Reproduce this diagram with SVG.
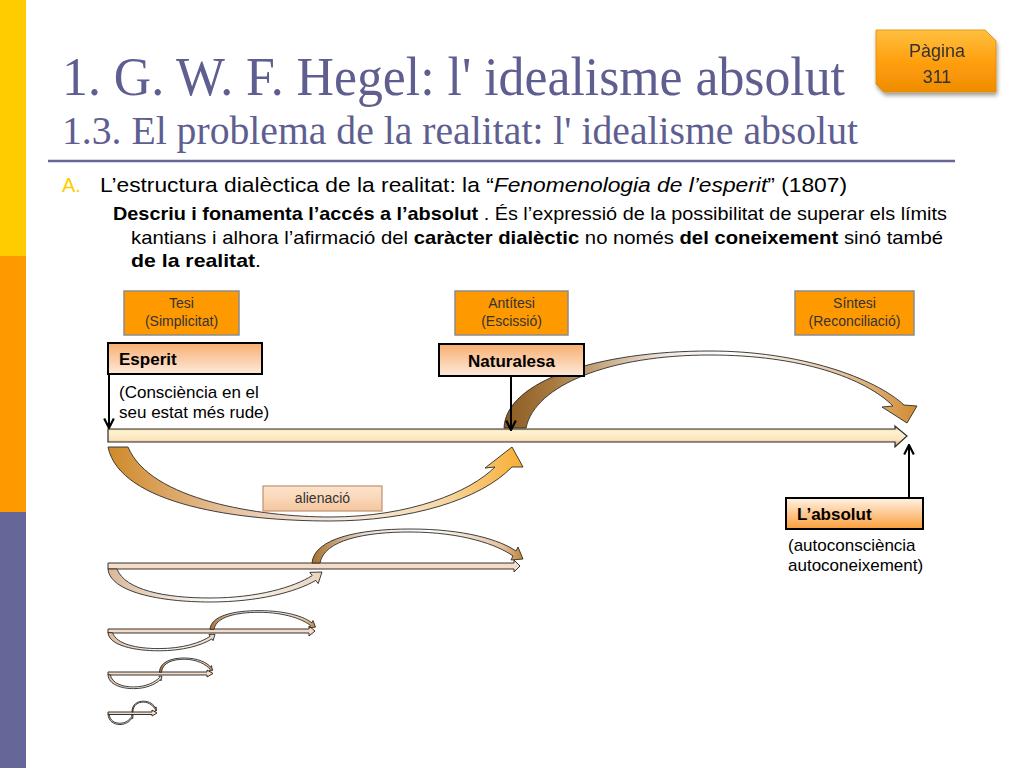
<svg xmlns="http://www.w3.org/2000/svg" xmlns:xlink="http://www.w3.org/1999/xlink" width="1024" height="768" viewBox="0 0 1024 768">
<style>
.sans{font-family:"Liberation Sans",Arial,sans-serif}
.serif{font-family:"Liberation Serif","Times New Roman",serif;fill:#5E5E90}
.lbl{font-family:"Liberation Sans",Arial,sans-serif;font-size:14px;fill:#333;text-anchor:middle}
.hdr{font-family:"Liberation Sans",Arial,sans-serif;font-size:17px;font-weight:bold;fill:#000}
.note{font-family:"Liberation Sans",Arial,sans-serif;font-size:17px;fill:#000}
.obox{fill:#FF9900;stroke:#8C8C8C;stroke-width:1.5}
.pbox{stroke:#000;stroke-width:2}
.vline{stroke:#000;stroke-width:2;fill:none;marker-end:url(#v)}
.arc{stroke:#2a2a2a;stroke-width:0.9;vector-effect:non-scaling-stroke}
.sbar{fill:#F6DCC6;stroke:#333;stroke-width:1}
</style>
<defs>
<marker id="v" viewBox="0 0 10 10" refX="9" refY="5" markerWidth="6" markerHeight="6" orient="auto" markerUnits="strokeWidth">
<path d="M1,1 L9,5 L1,9" fill="none" stroke="#000" stroke-width="1.8"/>
</marker>
<linearGradient id="gEsp" x1="0" y1="0" x2="0" y2="1">
<stop offset="0" stop-color="#F8AE70"/><stop offset="1" stop-color="#FDEADB"/>
</linearGradient>
<linearGradient id="gAbs" x1="0" y1="0" x2="0" y2="1">
<stop offset="0" stop-color="#FFF3E6"/><stop offset="1" stop-color="#FB9E3A"/>
</linearGradient>
<linearGradient id="gAli" x1="0" y1="0" x2="0" y2="1">
<stop offset="0" stop-color="#FBE3CC"/><stop offset="0.5" stop-color="#FAD7B8"/><stop offset="1" stop-color="#F3C69E"/>
</linearGradient>
<linearGradient id="gPag" x1="0" y1="0" x2="0" y2="1">
<stop offset="0" stop-color="#FFC040"/><stop offset="0.5" stop-color="#FFA010"/><stop offset="1" stop-color="#F08C00"/>
</linearGradient>
<linearGradient id="gBar" x1="0" y1="0" x2="0" y2="1">
<stop offset="0" stop-color="#E0A060"/><stop offset="0.25" stop-color="#FFF2D0"/><stop offset="0.65" stop-color="#FBE6BE"/><stop offset="1" stop-color="#C88A50"/>
</linearGradient>
<linearGradient id="gLow" x1="0" y1="0" x2="1" y2="0">
<stop offset="0" stop-color="#D08A28"/><stop offset="0.3" stop-color="#E6C2A2"/><stop offset="0.55" stop-color="#F6ECE4"/><stop offset="0.8" stop-color="#F6D8A8"/><stop offset="1" stop-color="#F8AE30"/>
</linearGradient>
<linearGradient id="gUp" x1="0" y1="0" x2="1" y2="0">
<stop offset="0" stop-color="#8A5A22"/><stop offset="0.12" stop-color="#A87A40"/><stop offset="0.4" stop-color="#F2EAE4"/><stop offset="0.55" stop-color="#FFFFFF"/><stop offset="0.8" stop-color="#E6C8A8"/><stop offset="1" stop-color="#D08C30"/>
</linearGradient>
<linearGradient id="gUp1" x1="0" y1="0" x2="1" y2="0">
<stop offset="0" stop-color="#A8702C"/><stop offset="0.25" stop-color="#E8DCD0"/><stop offset="0.55" stop-color="#FFFFFF"/><stop offset="0.9" stop-color="#E2C2A0"/><stop offset="1" stop-color="#C08438"/>
</linearGradient>
<linearGradient id="gLow1" x1="0" y1="0" x2="1" y2="0">
<stop offset="0" stop-color="#D8B898"/><stop offset="0.5" stop-color="#FFFFFF"/><stop offset="1" stop-color="#EAD4BE"/>
</linearGradient>
<filter id="sh" x="-20%" y="-20%" width="140%" height="150%">
<feGaussianBlur in="SourceAlpha" stdDeviation="2"/><feOffset dx="1" dy="3"/>
<feComponentTransfer><feFuncA type="linear" slope="0.4"/></feComponentTransfer>
<feMerge><feMergeNode/><feMergeNode in="SourceGraphic"/></feMerge>
</filter>
<g id="lv">
<path class="arc" fill="url(#gUp1)" d="M312,563 C314,538 360,529 410,529 C465,529 500,540 516,551 L518,547 L523,559 L511,560 L513,556 C498,545 462,532 410,532 C365,532 324,540 320,563 Z"/>
<path class="arc" fill="url(#gLow1)" d="M108,569 C110,592 160,602 210,602 C258,602 296,592 315.8,580.4 L318.2,583.6 L322,572 L309.8,572.4 L312.2,575.6 C294,587 258,598 210,598 C165,598 125,590 117,569 Z"/>
</g>
</defs>
<rect width="1024" height="768" fill="#fff"/>
<g id="strip">
<rect x="0" y="0" width="26" height="256" fill="#FFCC00"/>
<rect x="0" y="256" width="26" height="256" fill="#FF9900"/>
<rect x="0" y="512" width="26" height="256" fill="#666699"/>
</g>
<g id="title">
<text class="serif" x="62" y="95" font-size="54" textLength="783" lengthAdjust="spacingAndGlyphs">1. G. W. F. Hegel: l' idealisme absolut</text>
<text class="serif" x="62" y="144" font-size="41" textLength="796" lengthAdjust="spacingAndGlyphs">1.3. El problema de la realitat: l' idealisme absolut</text>
<line x1="48" y1="161" x2="955" y2="161" stroke="#666699" stroke-width="2.5"/>
</g>
<g id="pagina" filter="url(#sh)">
<polygon points="876,30 985,30 996,41 996,92 884,92 876,84" fill="url(#gPag)" stroke="#E08A00" stroke-width="0.8"/>
<text class="sans" x="937" y="57" font-size="18" fill="#333" text-anchor="middle">Pàgina</text>
<text class="sans" x="937" y="83" font-size="18" fill="#333" text-anchor="middle">311</text>
</g>
<g id="bullets" class="sans">
<text x="62" y="192" font-size="20" fill="#FFCC00">A.</text>
<text x="100" y="192" font-size="20.5" fill="#000" textLength="747" lengthAdjust="spacingAndGlyphs">L’estructura dialèctica de la realitat: la “<tspan font-style="italic">Fenomenologia de l’esperit</tspan>” (1807)</text>
<text x="113" y="220" font-size="18.5" fill="#000" textLength="834" lengthAdjust="spacingAndGlyphs"><tspan font-weight="bold">Descriu i fonamenta l’accés a l’absolut</tspan> . És l’expressió de la possibilitat de superar els límits</text>
<text x="131" y="244" font-size="18.5" fill="#000" textLength="812" lengthAdjust="spacingAndGlyphs">kantians i alhora l’afirmació del <tspan font-weight="bold">caràcter dialèctic</tspan> no només <tspan font-weight="bold">del coneixement</tspan> sinó també</text>
<text x="131" y="267" font-size="18.5" fill="#000" textLength="130" lengthAdjust="spacingAndGlyphs"><tspan font-weight="bold">de la realitat</tspan>.</text>
</g>
<g id="tesi">
<rect class="obox" x="124" y="291" width="115" height="44"/>
<text class="lbl" x="181.5" y="308">Tesi</text>
<text class="lbl" x="181.5" y="326">(Simplicitat)</text>
</g>
<g id="antitesi">
<rect class="obox" x="455" y="291" width="113" height="44"/>
<text class="lbl" x="511.5" y="308">Antítesi</text>
<text class="lbl" x="511.5" y="326">(Escissió)</text>
</g>
<g id="sintesi">
<rect class="obox" x="795" y="291" width="119" height="44"/>
<text class="lbl" x="854.5" y="308">Síntesi</text>
<text class="lbl" x="854.5" y="326">(Reconciliació)</text>
</g>
<g id="connectors">
<path fill="url(#gLow)" stroke="#2a2a2a" stroke-width="0.9" d="M108,447 L128,447 C150,500 260,517 330,517 C410,517 470,492 495,467 L485,468 L512,447 L523,467 L512,467 C480,500 410,521 330,521 C240,521 120,505 108,447 Z"/>
<path fill="url(#gUp)" stroke="#2a2a2a" stroke-width="0.9" d="M504,428 C506,380 600,351 710,351 C800,351 875,378 904,405 L917,406 L907,423 L882,407 L893,406 C865,378 800,355 710,355 C610,355 535,385 526,428 Z"/>
<path fill="url(#gBar)" stroke="#2a2a2a" stroke-width="1.2" d="M108,429 L895,429 L895,426 L907,436 L895,447 L895,442 L108,442 Z"/>
<line class="vline" x1="109" y1="374" x2="109" y2="428"/>
<line class="vline" x1="511" y1="376" x2="511" y2="430"/>
<line class="vline" x1="909" y1="498" x2="909" y2="445"/>
<path class="sbar" d="M108,563 L514,563 L514,560 L520,566 L514,572 L514,569 L108,569 Z"/>
<use xlink:href="#lv"/>
<path class="sbar" d="M108,629 L309,629 L309,626 L315,631 L309,636 L309,633 L108,633 Z"/>
<use xlink:href="#lv" transform="matrix(0.5,0,0,0.55,54,319.7)"/>
<path class="sbar" d="M108,672 L207,672 L207,670 L213,673.5 L207,677 L207,675 L108,675 Z" fill="#D8C0B0"/>
<use xlink:href="#lv" transform="matrix(0.252,0,0,0.42,80.8,435.8)"/>
<path class="sbar" d="M108,712 L152,712 L152,710 L157,713 L152,716 L152,714.5 L108,714.5 Z" fill="#C8B8A8"/>
<use xlink:href="#lv" transform="matrix(0.117,0,0,0.32,95.4,531.9)"/>
</g>
<g id="esperit">
<rect class="pbox" x="108" y="343" width="154" height="31" fill="url(#gEsp)"/>
<text class="hdr" x="119" y="365">Esperit</text>
<text class="note" x="119" y="398">(Consciència en el</text>
<text class="note" x="119" y="418">seu estat més rude)</text>
</g>
<g id="naturalesa">
<rect class="pbox" x="439" y="344" width="145" height="32" fill="url(#gEsp)"/>
<text class="hdr" x="511.5" y="367" text-anchor="middle">Naturalesa</text>
</g>
<g id="absolut">
<rect class="pbox" x="786" y="498" width="137" height="31" fill="url(#gAbs)"/>
<text class="hdr" x="797" y="520">L’absolut</text>
<text class="note" x="788" y="551">(autoconsciència</text>
<text class="note" x="788" y="571">autoconeixement)</text>
</g>
<g id="alienacio">
<rect x="263" y="486" width="119" height="25" fill="url(#gAli)" stroke="#C09070" stroke-width="1.2"/>
<text class="lbl" x="322.5" y="503" fill="#222">alienació</text>
</g>
</svg>
